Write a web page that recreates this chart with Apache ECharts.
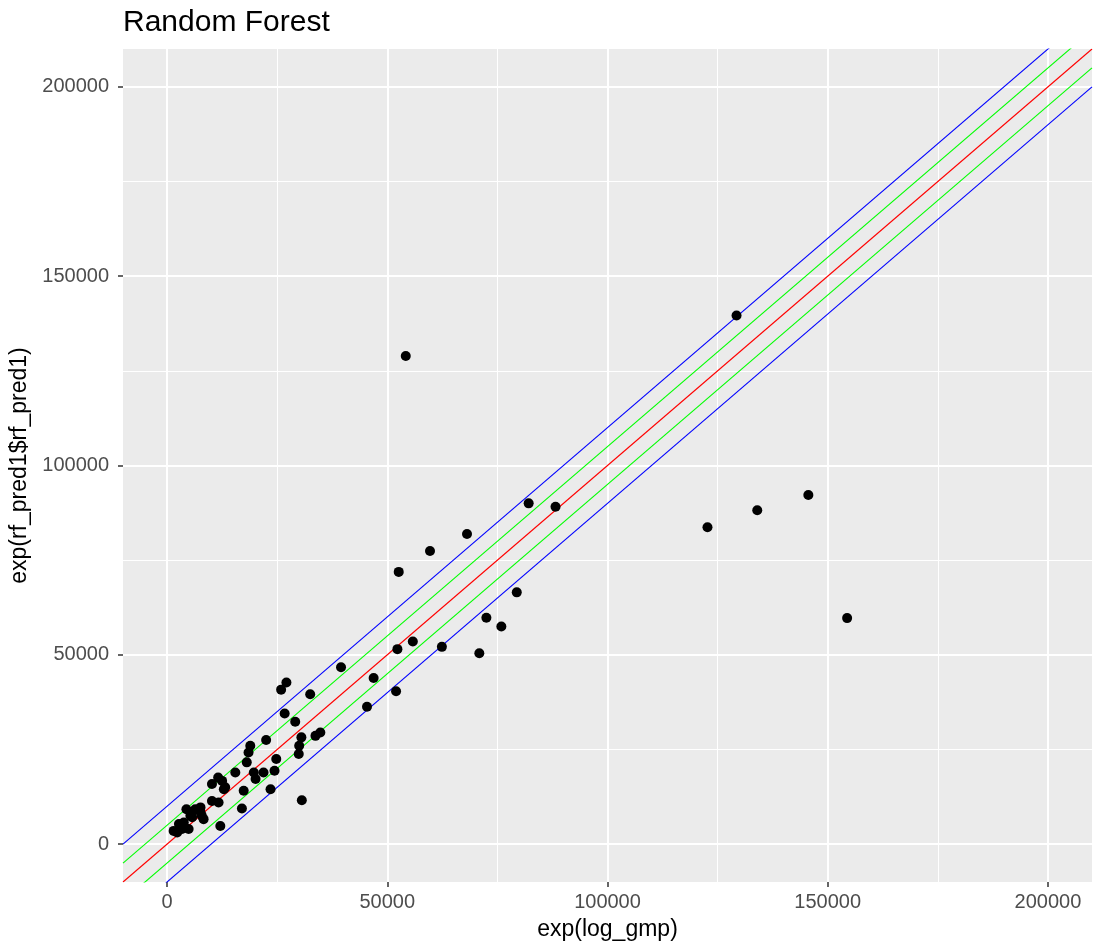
<!DOCTYPE html>
<html>
<head>
<meta charset="utf-8">
<script src="https://cdn.jsdelivr.net/npm/echarts@6/dist/echarts.min.js"></script>
<style>
  html, body { margin: 0; padding: 0; background: #fff; }
  #rf { width: 1097px; height: 949px; }
</style>
</head>
<body>
<div id="rf"></div>
<script>
var gmpX = [1500, 2300, 3400, 4900, 3000, 2700, 3800, 4400, 5300, 7900, 5700, 7600, 8300, 6400, 7600,
  10200, 11700, 12100, 10200, 11600, 13200, 12500, 12900, 15500, 17400, 17000, 20100, 21900, 19700,
  18100, 18500, 18900, 22500, 24800, 24400, 23500, 29900, 30000, 30500, 30600, 33700, 34800, 29100,
  26700, 25900, 27100, 32500, 39500, 46900, 45400, 52000, 52300, 55800, 62400, 70900, 72500, 75900,
  79400, 52600, 59700, 68100, 82100, 88200, 54200, 129300, 122700, 134000, 145600, 154400];
var predY = [3500, 3100, 4000, 4000, 4800, 5300, 5700, 9200, 7500, 7500, 7100, 8400, 6600, 9200, 9700,
  11400, 11000, 4800, 15900, 17600, 15000, 16700, 14500, 18900, 14100, 9400, 17200, 18900, 18900,
  21600, 24200, 26000, 27500, 22500, 19400, 14500, 23800, 26000, 28200, 11600, 28600, 29500, 32300,
  34500, 40800, 42700, 39600, 46700, 43900, 36300, 40400, 51500, 53500, 52100, 50400, 59800, 57500,
  66500, 71900, 77400, 81900, 90000, 89100, 128900, 139600, 83700, 88200, 92200, 59700];

// reference lines y = x + offset
var lineOffsets = [10000, 5000, 0, -5000, -10000];
var lineColors = ['#0000FF', '#00FF00', '#FF0000', '#00FF00', '#0000FF'];

var axisMin = -10000, axisMax = 210000;
var minorTicks = [25000, 75000, 125000, 175000];

var chart = echarts.init(document.getElementById('rf'));
var font = 'Liberation Sans, Arial, sans-serif';

var pts = [];
for (var i = 0; i < gmpX.length; i++) pts.push([gmpX[i], predY[i]]);

var minorLines = [];
minorTicks.forEach(function (v) {
  minorLines.push({ xAxis: v });
  minorLines.push({ yAxis: v });
});

var series = [{
  type: 'line', data: [], z: 1, silent: true,
  markLine: {
    z: 1, silent: true, symbol: 'none', label: { show: false },
    lineStyle: { color: '#fff', width: 1, type: 'solid' },
    emphasis: { disabled: true },
    animation: false,
    data: minorLines
  }
}];
lineOffsets.forEach(function (off, k) {
  series.push({
    type: 'line', z: 2, silent: true, symbol: 'none',
    lineStyle: { color: lineColors[k], width: 1.1 },
    data: [[axisMin, axisMin + off], [axisMax, axisMax + off]]
  });
});
series.push({
  type: 'scatter', z: 3, symbolSize: 10,
  itemStyle: { color: '#000', opacity: 1 },
  data: pts
});

function valAxis(name, isX) {
  return {
    type: 'value', min: axisMin, max: axisMax, splitNumber: 5,
    name: name, nameLocation: 'middle', nameGap: isX ? 36 : 90,
    nameTextStyle: { color: '#000', fontSize: 23, fontFamily: font },
    axisLine: { show: false, onZero: false },
    axisTick: { show: true, length: 5, lineStyle: { color: '#333', width: 1.5 } },
    axisLabel: { color: '#4D4D4D', fontSize: 20, fontFamily: font, margin: isX ? 10 : 14,
      showMinLabel: false, showMaxLabel: false,
      formatter: function (v) { return String(v); } },
    splitLine: { show: true, showMinLine: false, showMaxLine: false,
      lineStyle: { color: '#fff', width: 2 } },
    minorTick: { show: false },
    minorSplitLine: { show: false }
  };
}

chart.setOption({
  animation: false,
  backgroundColor: '#fff',
  title: {
    text: 'Random Forest', left: 123, top: 8, padding: 0,
    textStyle: { color: '#000', fontSize: 30, fontWeight: 'normal', fontFamily: font }
  },
  grid: {
    left: 123, right: 5, top: 49, bottom: 67,
    show: true, backgroundColor: '#EBEBEB', borderWidth: 0
  },
  xAxis: valAxis('exp(log_gmp)', true),
  yAxis: valAxis('exp(rf_pred1$rf_pred1)', false),
  series: series
});
</script>
</body>
</html>
